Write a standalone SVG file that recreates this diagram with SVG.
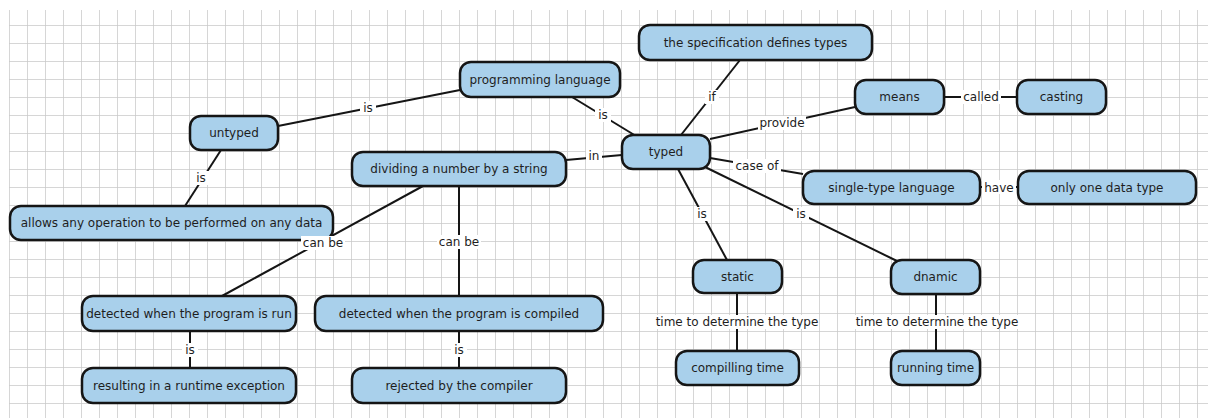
<svg xmlns="http://www.w3.org/2000/svg" width="1208" height="418" viewBox="0 0 1208 418">
<style>
.node rect{fill:#a9d0eb;stroke:#151515;stroke-width:2.5}
.node text{font-family:"DejaVu Sans",sans-serif;font-size:12px;fill:#1e1e1e;text-anchor:middle}
.conn line{stroke:#151515;stroke-width:2}
.lbl rect{fill:#ffffff}
.lbl text{font-family:"DejaVu Sans",sans-serif;font-size:12px;fill:#1e1e1e;text-anchor:middle}
</style>
<defs>
<pattern id="grid" x="9" y="7" width="18" height="18" patternUnits="userSpaceOnUse">
<path d="M0 0H18M0 0V18" fill="none" stroke="#c9c9c9" stroke-width="1.5"/>
</pattern>
</defs>
<rect width="1208" height="418" fill="#ffffff"/>
<rect x="9" y="10" width="1199" height="408" fill="url(#grid)"/>
<g id="connectors" class="conn">
<line x1="278" y1="126" x2="460" y2="90"/>
<line x1="221" y1="150" x2="185" y2="206"/>
<line x1="572" y1="97" x2="636" y2="136"/>
<line x1="740" y1="60" x2="681" y2="135"/>
<line x1="710" y1="139" x2="855" y2="107"/>
<line x1="622" y1="155" x2="566" y2="160"/>
<line x1="710" y1="158" x2="803" y2="174"/>
<line x1="678" y1="169" x2="727" y2="260"/>
<line x1="705" y1="167" x2="897" y2="261"/>
<line x1="423" y1="186" x2="222" y2="296"/>
<line x1="459" y1="186" x2="459" y2="296"/>
<line x1="190" y1="331" x2="190" y2="368"/>
<line x1="459" y1="331" x2="459" y2="368"/>
<line x1="737" y1="293" x2="737" y2="351"/>
<line x1="936" y1="294" x2="936" y2="351"/>
<line x1="944" y1="97" x2="1017" y2="97"/>
<line x1="980" y1="187" x2="1018" y2="187"/>
<g class="lbl">
<rect x="360" y="101" width="16" height="14"/><text x="368" y="112">is</text>
<rect x="193" y="171" width="16" height="14"/><text x="201" y="182">is</text>
<rect x="595" y="108" width="16" height="14"/><text x="603" y="119">is</text>
<rect x="705" y="90" width="14" height="14"/><text x="712" y="101">if</text>
<rect x="758" y="116" width="48" height="14"/><text x="782" y="127">provide</text>
<rect x="961" y="90" width="40" height="14"/><text x="981" y="101">called</text>
<rect x="586" y="149" width="16" height="14"/><text x="594" y="160">in</text>
<rect x="733" y="159" width="48" height="14"/><text x="757" y="170">case of</text>
<rect x="982" y="180" width="34" height="14"/><text x="999" y="192">have</text>
<rect x="694" y="207" width="16" height="14"/><text x="702" y="218">is</text>
<rect x="793" y="207" width="16" height="14"/><text x="801" y="218">is</text>
<rect x="437" y="235" width="44" height="14"/><text x="459" y="246">can be</text>
<rect x="182" y="343" width="16" height="14"/><text x="190" y="354">is</text>
<rect x="451" y="343" width="16" height="14"/><text x="459" y="354">is</text>
<rect x="655" y="315" width="164" height="14"/><text x="737" y="326">time to determine the type</text>
<rect x="854" y="315" width="166" height="14"/><text x="937" y="326">time to determine the type</text>
</g>
</g>
<g id="n-spec" class="node"><rect x="639" y="25" width="233" height="35" rx="11"/><text x="755.5" y="46.5">the specification defines types</text></g>
<g id="n-proglang" class="node"><rect x="460" y="62" width="160" height="35" rx="11"/><text x="540" y="83.5">programming language</text></g>
<g id="n-means" class="node"><rect x="855" y="80" width="89" height="34" rx="11"/><text x="899.5" y="101">means</text></g>
<g id="n-casting" class="node"><rect x="1017" y="80" width="89" height="34" rx="11"/><text x="1061.5" y="101">casting</text></g>
<g id="n-untyped" class="node"><rect x="190" y="116" width="88" height="34" rx="11"/><text x="234" y="137">untyped</text></g>
<g id="n-typed" class="node"><rect x="622" y="135" width="88" height="34" rx="11"/><text x="666" y="156">typed</text></g>
<g id="n-dividing" class="node"><rect x="352" y="152" width="214" height="34" rx="11"/><text x="459" y="173">dividing a number by a string</text></g>
<g id="n-single" class="node"><rect x="803" y="171" width="177" height="33" rx="11"/><text x="891.5" y="191.5">single-type language</text></g>
<g id="n-onlyone" class="node"><rect x="1018" y="171" width="178" height="33" rx="11"/><text x="1107" y="191.5">only one data type</text></g>
<g id="n-allows" class="node"><rect x="10" y="206" width="323" height="34" rx="11"/><text x="171.5" y="227">allows any operation to be performed on any data</text></g>
<g id="n-static" class="node"><rect x="693" y="260" width="89" height="33" rx="11"/><text x="737.5" y="280.5">static</text></g>
<g id="n-dnamic" class="node"><rect x="891" y="260" width="89" height="34" rx="11"/><text x="935.5" y="281">dnamic</text></g>
<g id="n-run" class="node"><rect x="82" y="296" width="214" height="35" rx="11"/><text x="189" y="317.5">detected when the program is run</text></g>
<g id="n-compiled" class="node"><rect x="315" y="296" width="288" height="35" rx="11"/><text x="459" y="317.5">detected when the program is compiled</text></g>
<g id="n-resulting" class="node"><rect x="82" y="368" width="214" height="35" rx="11"/><text x="189" y="389.5">resulting in a runtime exception</text></g>
<g id="n-rejected" class="node"><rect x="352" y="368" width="214" height="35" rx="11"/><text x="459" y="389.5">rejected by the compiler</text></g>
<g id="n-compilling" class="node"><rect x="676" y="351" width="123" height="34" rx="11"/><text x="737.5" y="372">compilling time</text></g>
<g id="n-running" class="node"><rect x="891" y="351" width="89" height="34" rx="11"/><text x="935.5" y="372">running time</text></g>
<g id="top-label" class="lbl"><rect x="301" y="236" width="44" height="14"/><text x="323" y="247">can be</text></g>
</svg>
